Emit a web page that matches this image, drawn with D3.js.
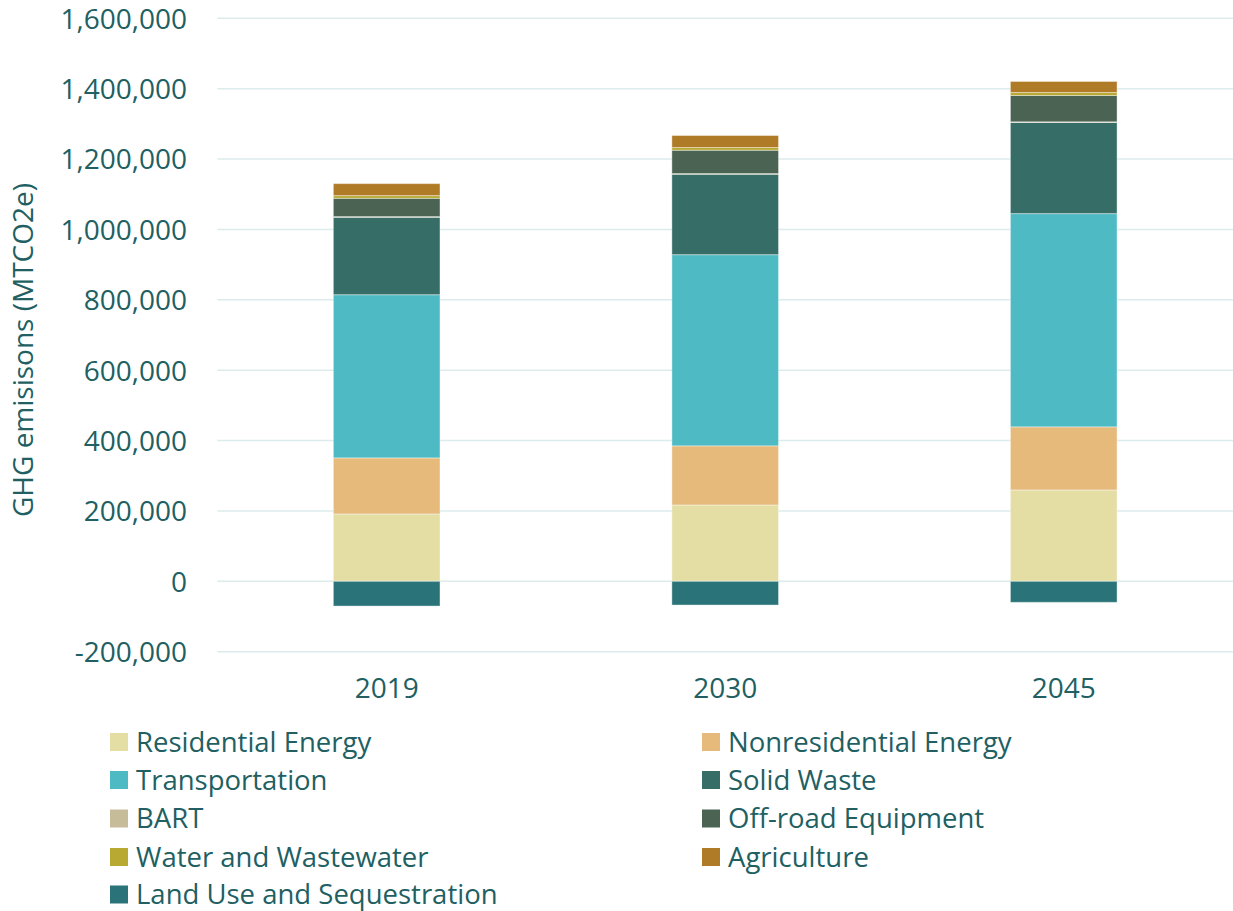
<!DOCTYPE html>
<html>
<head>
<meta charset="utf-8">
<script src="https://cdn.jsdelivr.net/npm/d3@7"></script>
<style>
  html, body { margin: 0; padding: 0; background: #fff; }
  svg { display: block; font-family: "Open Sans", sans-serif; }
</style>
</head>
<body>
<svg id="chart" width="1233" height="911"></svg>
<script>
const years = ["2019", "2030", "2045"];
const seriesNames = ["Residential Energy", "Nonresidential Energy", "Transportation", "Solid Waste", "BART", "Off-road Equipment", "Water and Wastewater", "Agriculture", "Land Use and Sequestration"];
const residential = [191500, 217000, 259700];
const nonresidential = [159300, 168000, 179300];
const transportation = [463700, 543300, 606000];
const solidWaste = [220000, 228500, 258900];
const bart = [2000, 2000, 2000];
const offroad = [52000, 66300, 74800];
const water = [7700, 7700, 8500];
const agriculture = [34000, 34100, 31300];
const landUse = [-70300, -67400, -59700];
const yTicks = [-200000, 0, 200000, 400000, 600000, 800000, 1000000, 1200000, 1400000, 1600000];
const colors = ["#E4DEA4", "#E5BA7B", "#4EBBC4", "#366D67", "#C6BC99", "#4A6352", "#B8A933", "#B07B27", "#2A7378"];
const textColor = "#215F63";

const seriesValues = [residential, nonresidential, transportation, solidWaste, bart, offroad, water, agriculture, landUse];
const rows = years.map((y, i) => {
  const r = { year: y };
  seriesNames.forEach((s, k) => r[s] = seriesValues[k][i]);
  return r;
});

const svg = d3.select("#chart");
const plotLeft = 217.4, plotRight = 1233, plotTop = 18.3, plotBottom = 651.7;

const x = d3.scaleBand().domain(years).range([plotLeft, plotRight]).padding(0);
const y = d3.scaleLinear().domain([-200000, 1600000]).range([plotBottom, plotTop]);
const barW = x.bandwidth() * 0.315;

// gridlines
svg.append("g").selectAll("line").data(yTicks).join("line")
  .attr("x1", plotLeft).attr("x2", plotRight)
  .attr("y1", d => y(d)).attr("y2", d => y(d))
  .attr("stroke", "#DCEBEB").attr("stroke-width", 1.6);

// y axis labels
const yAxis = d3.axisLeft(y).tickValues(yTicks).tickSize(0).tickPadding(0)
  .tickFormat(d => d3.format(",")(d).replace("−", "-"));
const ya = svg.append("g").attr("transform", `translate(187,0)`).call(yAxis);
ya.select(".domain").remove();
ya.selectAll("text").attr("fill", textColor).style("font-size", "28px").style("font-family", "Open Sans").attr("dy", "0.35em");

// x axis labels
const xAxis = d3.axisBottom(x).tickSize(0).tickPadding(0);
const xa = svg.append("g").attr("transform", `translate(0,678)`).call(xAxis);
xa.select(".domain").remove();
xa.selectAll("text").attr("fill", textColor).style("font-size", "28px").style("font-family", "Open Sans").attr("dy", "0.71em");

// stacks
const stack = d3.stack().keys(seriesNames).offset(d3.stackOffsetDiverging);
const stacked = stack(rows);
svg.append("g").selectAll("g").data(stacked).join("g")
  .attr("fill", (d, i) => colors[i])
  .selectAll("rect").data(d => d).join("rect")
  .attr("x", d => x(d.data.year) + x.bandwidth() / 2 - barW / 2)
  .attr("width", barW)
  .attr("y", d => y(Math.max(d[0], d[1])))
  .attr("height", d => Math.abs(y(d[0]) - y(d[1])))
  .attr("stroke", "rgba(255,255,255,0.4)").attr("stroke-width", 1);

// y title
svg.append("text")
  .attr("transform", `translate(33,350) rotate(-90)`)
  .attr("text-anchor", "middle")
  .attr("fill", textColor).style("font-size", "28px")
  .text("GHG emisisons (MTCO2e)");

// legend
const legendCols = [110, 702];
const legendRowY = [742, 780, 818.5, 857, 894.5];
const lg = svg.append("g").selectAll("g").data(seriesNames).join("g")
  .attr("transform", (d, i) => `translate(${legendCols[i % 2]},${legendRowY[Math.floor(i / 2)]})`);
lg.append("rect").attr("x", 0).attr("y", -9).attr("width", 18).attr("height", 18)
  .attr("fill", (d, i) => colors[i]);
lg.append("text").attr("x", 26).attr("y", 0).attr("dy", "0.35em")
  .attr("fill", textColor).style("font-size", "27.5px")
  .text(d => d);
</script>
</body>
</html>
